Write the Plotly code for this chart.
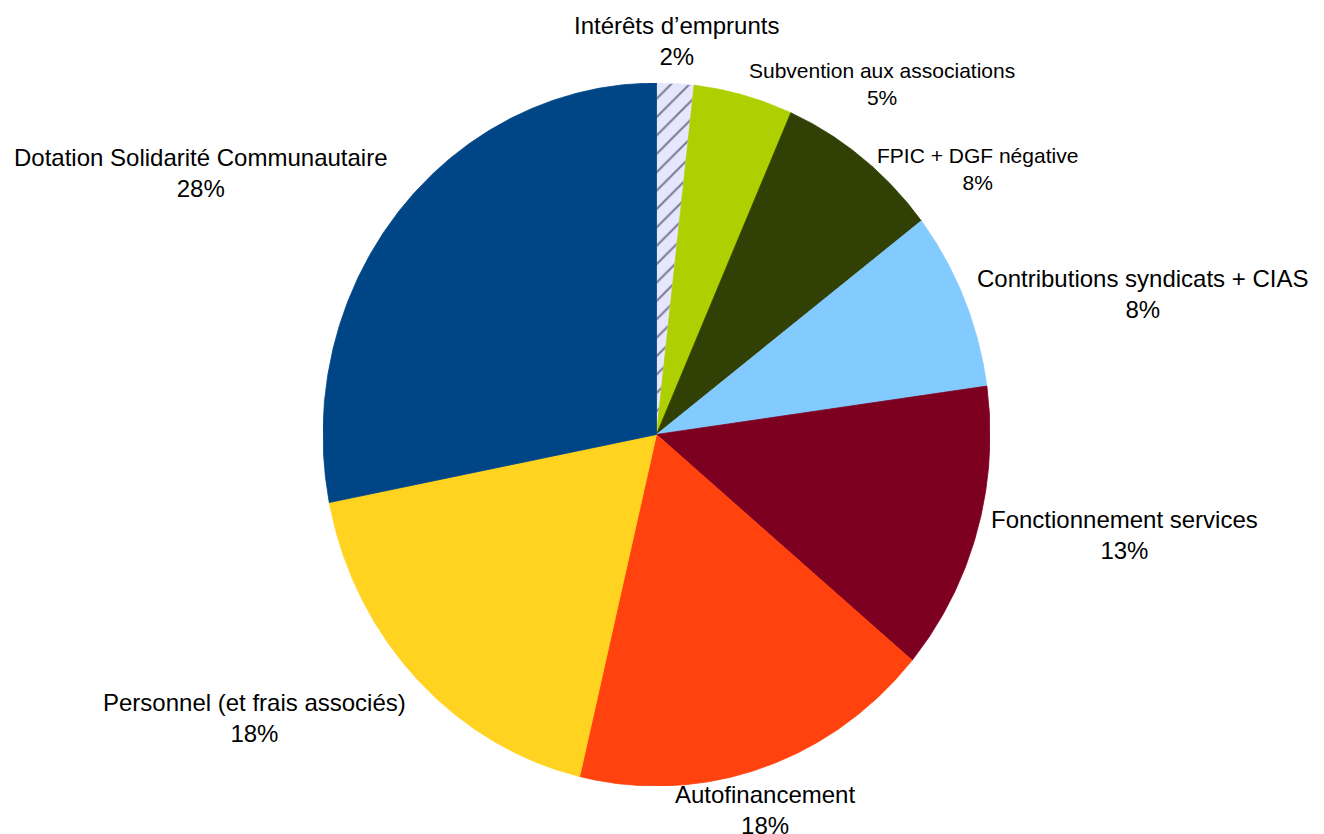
import math
import plotly.graph_objects as go

labels = ["Intérêts d’emprunts", "Subvention aux associations", "FPIC + DGF négative",
          "Contributions syndicats + CIAS", "Fonctionnement services", "Autofinancement",
          "Personnel (et frais associés)", "Dotation Solidarité Communautaire"]
values = [1.8, 4.8, 8.0, 8.2, 13.3, 17.6, 18.2, 28.1]

# styles
colors = ["#e6e6ff", "#aecf00", "#314004", "#83caff", "#7e0021", "#ff420e", "#ffd320", "#004586"]
hatched = [True, False, False, False, False, False, False, False]
font_sizes = [24, 21, 21, 24, 24, 24, 24, 24]
label_anchor = [("center", "bottom"), ("left", "middle"), ("left", "top"), ("left", "middle"),
                ("left", "middle"), ("center", "top"), ("right", "top"), ("right", "bottom")]
label_gap = [12, 12, 20, 12, 12, 12, 12, 12]  # px, radial distance between pie edge and label

total = sum(values)
fig = go.Figure()
start = 0.0
annotations = []
for lab, val, col, hat, fs, (xa, ya), gap in zip(labels, values, colors, hatched, font_sizes,
                                                 label_anchor, label_gap):
    span = val / total * 360.0
    end = start + span
    n = max(4, int(span * 3))
    angs = [start + span * i / n for i in range(n + 1)]
    xs = [0.0] + [math.sin(math.radians(a)) for a in angs] + [0.0]
    ys = [0.0] + [math.cos(math.radians(a)) for a in angs] + [0.0]
    kw = {}
    if hat:
        kw["fillpattern"] = dict(shape="/", fgcolor="#10102a", bgcolor=col, size=13, solidity=0.16)
    fig.add_trace(go.Scatter(x=xs, y=ys, mode="lines", fill="toself", fillcolor=col,
                             line=dict(color=col, width=0.8), name=lab,
                             hoverinfo="name", showlegend=False, **kw))
    mid = math.radians(start + span / 2)
    pct = round(val / total * 100)
    annotations.append(dict(
        x=math.sin(mid), y=math.cos(mid), xref="x", yref="y",
        text=f"{lab}<br>{pct}%", showarrow=False, xanchor=xa, yanchor=ya, align="center",
        xshift=gap * math.sin(mid), yshift=gap * math.cos(mid),
        font=dict(size=fs, color="black", family="Liberation Sans")))
    start = end

fig.update_layout(width=1324, height=834, paper_bgcolor="white", plot_bgcolor="white",
                  margin=dict(l=323, r=334, t=83, b=48),
                  xaxis=dict(range=[-1, 1], visible=False, fixedrange=True),
                  yaxis=dict(range=[-1, 1], visible=False, fixedrange=True),
                  annotations=annotations,
                  font=dict(family="Liberation Sans", color="black"))
fig.write_html("out.html")
